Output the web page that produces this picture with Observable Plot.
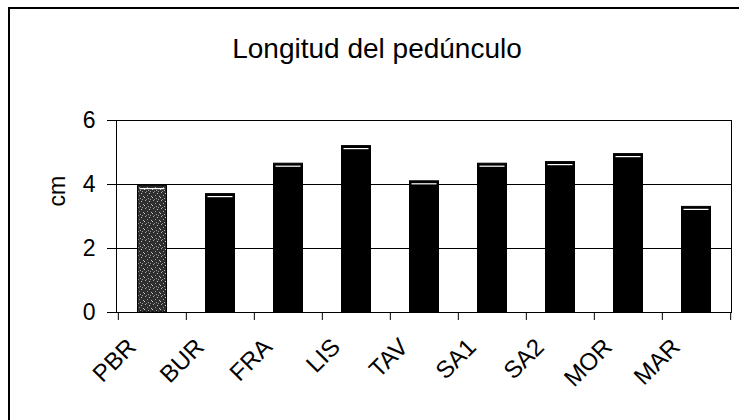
<!DOCTYPE html>
<html><head><meta charset="utf-8">
<script src="https://cdn.jsdelivr.net/npm/d3@7"></script>
<script src="https://cdn.jsdelivr.net/npm/@observablehq/plot@0.6"></script>
<style>
html,body{margin:0;padding:0;background:#fff;}
#wrap{position:relative;width:739px;height:420px;overflow:hidden;}
#border{position:absolute;left:8px;top:7px;width:740px;height:420px;border-top:2px solid #000;border-left:2px solid #000;pointer-events:none;}
#chart{position:absolute;left:0;top:0;}
</style></head><body><div id="wrap"><div id="chart"></div><div id="border"></div></div>
<script>
const sites = ["PBR", "BUR", "FRA", "LIS", "TAV", "SA1", "SA2", "MOR", "MAR"];
const values = [3.95, 3.7, 4.65, 5.2, 4.1, 4.65, 4.7, 4.95, 3.3];
const yTicks = [0, 2, 4, 6];
const gridValues = [2, 4];
const title = "Longitud del pedúnculo";
const yLabel = "cm";

const data = sites.map((s, i) => ({site: s, value: values[i]}));
const W = 739, H = 420, mL = 116, mR = 8, mT = 120, mB = 108;
const bw = (W - mL - mR) / sites.length;
const font = "'Liberation Sans', Arial, sans-serif";

const plot = Plot.plot({
  width: W, height: H,
  marginLeft: mL, marginRight: mR, marginTop: mT, marginBottom: mB,
  style: {fontFamily: font, fontSize: "22px", background: "transparent", color: "#000"},
  x: {type: "band", domain: sites, padding: 0, axis: null},
  y: {domain: [0, 6], ticks: yTicks, tickSize: 9, tickPadding: 11, label: null, tickFormat: () => ""},
  marks: [
    Plot.ruleY(gridValues, {stroke: "#000", strokeWidth: 1}),
    Plot.barY(data, {x: "site", y: "value", fill: d => d.site === "PBR" ? "url(#speck)" : "#000",
      stroke: "#000", strokeWidth: 1, insetLeft: 19.5, insetRight: 19.5}),
    Plot.tickY(data, {x: "site", y: "value", stroke: "#fff", strokeWidth: 1.2, dy: 2.5, inset: 21.5}),
    Plot.frame({stroke: "#000", strokeWidth: 1}),
    Plot.ruleX(sites, {x: d => d, y1: 0, y2: 0, dx: -bw / 2, insetBottom: -8, stroke: "#000"}),
    Plot.ruleX([sites[sites.length - 1]], {x: d => d, y1: 0, y2: 0, dx: bw / 2, insetBottom: -8, stroke: "#000"}),
    Plot.text(yTicks, {y: d => d, text: d => String(d), frameAnchor: "left", textAnchor: "end",
      dx: -21, fontSize: 23, fill: "#000"}),
    Plot.text(data, {x: "site", text: "site", frameAnchor: "bottom", rotate: -45, textAnchor: "end",
      dx: -15, dy: 36, fontSize: 24, fill: "#000"}),
    Plot.text([title], {frameAnchor: "top", dx: -47, dy: -82, fontSize: 28, letterSpacing: "1.2px", fill: "#000"}),
    Plot.text([yLabel], {frameAnchor: "left", dx: -59, dy: -10, rotate: -90, fontSize: 23, fill: "#000"})
  ]
});

const ns = "http://www.w3.org/2000/svg";
const defs = document.createElementNS(ns, "defs");
defs.innerHTML = `<pattern id="speck" width="8" height="8" patternUnits="userSpaceOnUse">
<rect width="8" height="8" fill="#2e2e2e"/>
<rect x="1" y="0" width="1" height="1" fill="#aaa"/>
<rect x="5" y="1" width="1" height="1" fill="#ccc"/>
<rect x="3" y="3" width="1" height="1" fill="#999"/>
<rect x="7" y="4" width="1" height="1" fill="#bbb"/>
<rect x="0" y="5" width="1" height="1" fill="#ccc"/>
<rect x="4" y="6" width="1" height="1" fill="#aaa"/>
<rect x="2" y="7" width="1" height="1" fill="#888"/>
<rect x="6" y="7" width="1" height="1" fill="#999"/>
</pattern>`;
plot.prepend(defs);
document.getElementById("chart").appendChild(plot);
</script>
</body></html>
